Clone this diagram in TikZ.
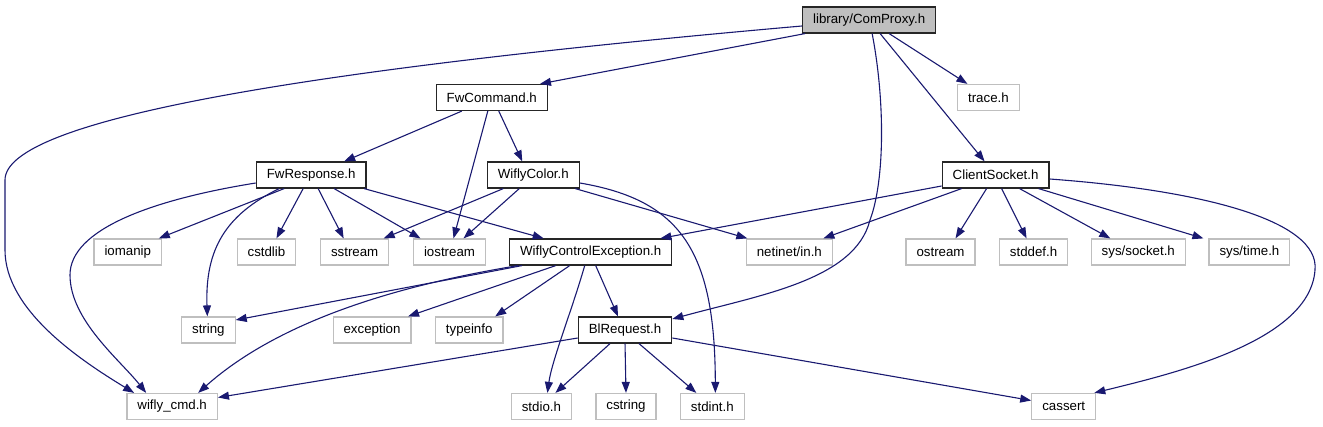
\documentclass[tikz,border=0pt]{standalone}
\usepackage{fontspec}
\setmainfont{Liberation Sans}
\usetikzlibrary{arrows.meta,calc}
\definecolor{edgeblue}{HTML}{191970}
\definecolor{boxgray}{HTML}{BFBFBF}
\tikzset{
  base/.style={rectangle, anchor=west, inner xsep=10.5pt, inner ysep=0pt, minimum height=26pt,
    line width=1.2pt, font=\fontsize{13.3}{16}\selectfont},
  rootbox/.style={base, draw=black!85, fill=boxgray},
  filebox/.style={base, draw=black!85, fill=white},
  extbox/.style={base, draw=boxgray, fill=white},
  dep/.style={draw=edgeblue, line width=1.1pt, -{Triangle[length=11pt,width=8pt]}, fill=none},
}
\begin{document}
\begin{tikzpicture}[x=1pt,y=-1pt]
\path[use as bounding box] (0,0) rectangle (1323,427);
% row 1
\node[rootbox] (cp) at (802,20) {library/ComProxy.h};
% row 2
\node[filebox] (fwc) at (435.6,97.5) {FwCommand.h};
\node[extbox] (trace) at (957,97.5) {trace.h};
% row 3
\node[filebox] (fwr) at (255.7,175) {FwResponse.h};
\node[filebox] (wc) at (486.7,175) {WiflyColor.h};
\node[filebox] (cs) at (941.6,175) {ClientSocket.h};
% row 4
\node[extbox] (iomanip) at (93.4,252) {iomanip};
\node[extbox] (cstdlib) at (236.5,252) {cstdlib};
\node[extbox] (sstream) at (319.9,252) {sstream};
\node[extbox] (iostream) at (412.9,252) {iostream};
\node[filebox] (wce) at (509,252) {WiflyControlException.h};
\node[extbox] (netinet) at (745.7,252) {netinet/in.h};
\node[extbox] (ostream) at (905.4,252) {ostream};
\node[extbox] (stddef) at (998.8,252) {stddef.h};
\node[extbox] (syssocket) at (1090.6,252) {sys/socket.h};
\node[extbox] (systime) at (1208.4,252) {sys/time.h};
% row 5
\node[extbox] (string) at (181,330) {string};
\node[extbox] (exception) at (332.5,330) {exception};
\node[extbox] (typeinfo) at (434.8,330) {typeinfo};
\node[filebox] (blr) at (577.7,330) {BlRequest.h};
% row 6
\node[extbox] (wifly) at (126.3,406.5) {wifly\_cmd.h};
\node[extbox] (stdio) at (510.7,406.5) {stdio.h};
\node[extbox] (cstring) at (595.3,406.5) {cstring};
\node[extbox] (stdint) at (679.8,406.5) {stdint.h};
\node[extbox] (cassert) at (1031.2,406.5) {cassert};

% edges from ComProxy
\draw[dep] ($(cp.west)+(0,6)$) .. controls (300,70) and (5,120) .. (5,180) -- (5,250)
  .. controls (5,310) and (80,360) .. ($(wifly.north)+(-38,0)$);
\draw[dep] ($(cp.south west)+(3,0)$) -- ($(fwc.north east)+(-8,0)$);
\draw[dep] ($(cp.south)+(3,0)$) .. controls (885,100) and (885,180) .. (870,220)
  .. controls (855,280) and (760,295) .. ($(blr.east)+(0,-11)$);
\draw[dep] ($(cp.south)+(11,0)$) -- ($(cs.north)+(-11,0)$);
\draw[dep] ($(cp.south)+(20,0)$) -- ($(trace.north)+(-21,0)$);
% FwCommand
\draw[dep] ($(fwc.south)+(-30,0)$) -- ($(fwr.north)+(33,0)$);
\draw[dep] ($(fwc.south)+(-4,0)$) -- ($(iostream.north)+(4,0)$);
\draw[dep] ($(fwc.south)+(7,0)$) -- ($(wc.north)+(-11,0)$);
% FwResponse
\draw[dep] ($(fwr.south)+(-27,0)$) -- ($(iomanip.north)+(31,0)$);
\draw[dep] ($(fwr.south)+(-32,0)$) .. controls (225,215) and (205,250) .. ($(string.north)+(-1,0)$);
\draw[dep] ($(fwr.south)+(-8,0)$) -- ($(cstdlib.north)+(10,0)$);
\draw[dep] ($(fwr.south)+(7,0)$) -- ($(sstream.north)+(-11,0)$);
\draw[dep] ($(fwr.south)+(23,0)$) -- ($(iostream.north)+(-29,0)$);
\draw[dep] ($(fwr.south)+(53,0)$) -- ($(wce.north)+(-47,0)$);
\draw[dep] ($(fwr.west)+(0,8)$) .. controls (150,200) and (70,230) .. (70,275)
  .. controls (70,320) and (120,360) .. ($(wifly.north)+(-26,0)$);
% WiflyColor
\draw[dep] ($(wc.south)+(-30,0)$) -- ($(sstream.north)+(29,0)$);
\draw[dep] ($(wc.south)+(-14,0)$) -- ($(iostream.north)+(14,0)$);
\draw[dep] ($(wc.south)+(42,0)$) -- ($(netinet.north)+(-42,0)$);
\draw[dep] ($(wc.east)+(0,8)$) .. controls (680,200) and (715,250) .. ($(stdint.north)+(3,0)$);
% ClientSocket
\draw[dep] ($(cs.west)+(0,11)$) -- ($(wce.north east)+(-12,0)$);
\draw[dep] ($(cs.south)+(-34,0)$) -- ($(netinet.north)+(34,0)$);
\draw[dep] ($(cs.south)+(-9,0)$) -- ($(ostream.north)+(15,0)$);
\draw[dep] ($(cs.south)+(6,0)$) -- ($(stddef.north)+(-7,0)$);
\draw[dep] ($(cs.south)+(24,0)$) -- ($(syssocket.north)+(-28,0)$);
\draw[dep] ($(cs.south)+(43,0)$) -- ($(systime.north)+(-46,0)$);
\draw[dep] ($(cs.east)+(0,4)$) .. controls (1200,190) and (1320,220) .. (1315,270)
  .. controls (1310,340) and (1180,372) .. ($(cassert.north east)+(-2,0)$);
% WiflyControlException
\draw[dep] ($(wce.south west)+(13,0)$) -- ($(string.east)+(0,-10)$);
\draw[dep] ($(wce.south west)+(9,0)$) .. controls (400,285) and (280,320) .. ($(wifly.north)+(26,0)$);
\draw[dep] ($(wce.south)+(-35,0)$) -- ($(exception.north)+(36,0)$);
\draw[dep] ($(wce.south)+(-21,0)$) -- ($(typeinfo.north)+(26,0)$);
\draw[dep] ($(wce.south)+(-6,0)$) .. controls (572,310) and (552,360) .. ($(stdio.north)+(6,0)$);
\draw[dep] ($(wce.south)+(5,0)$) -- ($(blr.north)+(-7,0)$);
% BlRequest
\draw[dep] ($(blr.west)+(0,8)$) -- ($(wifly.east)+(0,-9)$);
\draw[dep] ($(blr.south)+(-15,0)$) -- ($(stdio.north)+(14,0)$);
\draw[dep] (blr.south) -- (cstring.north);
\draw[dep] ($(blr.south)+(14,0)$) -- ($(stdint.north)+(-16,0)$);
\draw[dep] ($(blr.east)+(0,8)$) -- ($(cassert.west)+(0,-6)$);
\end{tikzpicture}
\end{document}
